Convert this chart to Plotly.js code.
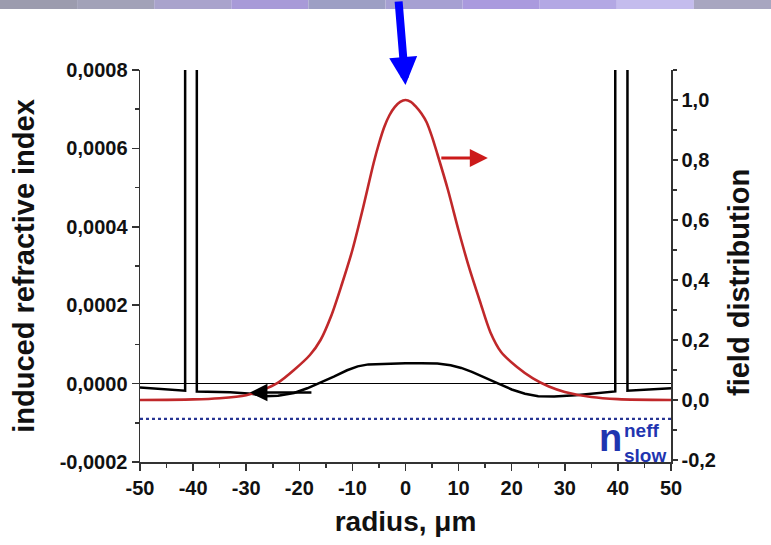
<!DOCTYPE html>
<html>
<head>
<meta charset="utf-8">
<script src="https://cdn.plot.ly/plotly-3.0.1.min.js"></script>
<style>html,body{margin:0;padding:0;background:#fff;}#chart{width:771px;height:545px;}</style>
</head>
<body>
<div id="chart"></div>
<script>
// ---- data ----
const radius = [-50, -40, -35, -30, -27, -24, -21, -18, -16, -14, -12, -10, -8, -6, -5, -4, -3, -2, -1, 0, 1, 2, 3, 4, 5, 6, 8, 10, 12, 14, 16, 18, 21, 24, 27, 30, 35, 40, 50];
const fieldDistribution = [0, 0.002, 0.006, 0.016, 0.033, 0.058, 0.1, 0.15, 0.2, 0.28, 0.385, 0.5, 0.64, 0.79, 0.855, 0.91, 0.95, 0.977, 0.994, 1.0, 0.994, 0.977, 0.955, 0.925, 0.877, 0.82, 0.70, 0.565, 0.44, 0.33, 0.225, 0.16, 0.11, 0.072, 0.045, 0.027, 0.01, 0.003, 0];

const indexRadius = [-50, -41.5, -41.5, -39.3, -39.3, -33, -29, -26.5, -24, -21, -18.5, -16, -13.5, -11, -9, -7, -3, 0, 3, 6, 8.5, 10.5, 12.5, 15, 17.5, 20, 22.5, 25, 28, 32, 39.5, 39.5, 41.8, 41.8, 50];
const inducedIndex = [-1.0e-5, -1.8e-5, 9e-4, 9e-4, -2.0e-5, -2.2e-5, -2.6e-5, -3.2e-5, -3.1e-5, -2.4e-5, -1.2e-5, 2e-6, 1.8e-5, 3.4e-5, 4.4e-5, 4.9e-5, 5.1e-5, 5.2e-5, 5.2e-5, 5.1e-5, 4.7e-5, 4.0e-5, 3.0e-5, 1.6e-5, 0.0, -1.5e-5, -2.6e-5, -3.2e-5, -3.3e-5, -3.0e-5, -2.0e-5, 9e-4, 9e-4, -1.8e-5, -1.2e-5];

const slowRadius = [-50, 50];
const slowIndex = [-0.00009, -0.00009];

const xTickVals = [-50, -40, -30, -20, -10, 0, 10, 20, 30, 40, 50];
const xTickText = ["-50", "-40", "-30", "-20", "-10", "0", "10", "20", "30", "40", "50"];
const leftTickVals = [-0.0002, 0, 0.0002, 0.0004, 0.0006, 0.0008];
const leftTickText = ["-0,0002", "0,0000", "0,0002", "0,0004", "0,0006", "0,0008"];
const rightTickVals = [-0.2, 0, 0.2, 0.4, 0.6, 0.8, 1.0];
const rightTickText = ["-0,2", "0,0", "0,2", "0,4", "0,6", "0,8", "1,0"];

// decorative top band colours
const bandColors = ["#9c9cae", "#a2a2b8", "#a9a3cc", "#a89ad8", "#9d9fc4", "#a6a0d2", "#aa9ade", "#b3a8e4", "#c4bced", "#a8a6c0"];

// ---- chart ----
const FONT = "Liberation Sans, Arial, sans-serif";
const AX = "#333333";
const NBLUE = "#1f35b0";

const traces = [
  {x: slowRadius, y: slowIndex, type: "scatter", mode: "lines", yaxis: "y",
   line: {color: "#283593", width: 2.2, dash: "dot"}, hoverinfo: "skip"},
  {x: indexRadius, y: inducedIndex, type: "scatter", mode: "lines", yaxis: "y",
   line: {color: "#000000", width: 2.5}},
  {x: radius, y: fieldDistribution, type: "scatter", mode: "lines", yaxis: "y2",
   line: {color: "#c0282a", width: 2.6, shape: "spline", smoothing: 0.8}}
];

const shapes = bandColors.map((c, i) => ({
  type: "rect", xref: "paper", yref: "paper",
  x0: -140/531 + i * (771/531) / bandColors.length,
  x1: -140/531 + (i + 1) * (771/531) / bandColors.length,
  y0: (462 - 9) / 392, y1: 462 / 392 + 0.01,
  fillcolor: c, line: {width: 0}, layer: "below"
}));

const annotations = [
  // big blue arrow pointing at field maximum
  {xref: "x", yref: "y2", x: 0, y: 1.05, ax: -7, ay: -86, showarrow: true,
   arrowhead: 2, arrowsize: 0.7, arrowwidth: 8, arrowcolor: "#0000ff", text: ""},
  // red arrow -> right axis
  {xref: "x", yref: "y2", x: 15.5, y: 0.807, ax: -48, ay: 0, showarrow: true,
   arrowhead: 2, arrowsize: 1.2, arrowwidth: 3, arrowcolor: "#cc1a1a", text: ""},
  // black arrow -> left axis
  {xref: "x", yref: "y", x: -29.3, y: -2.3e-5, ax: 63, ay: 0, showarrow: true,
   arrowhead: 2, arrowsize: 1.4, arrowwidth: 2.5, arrowcolor: "#000000", text: ""},
  // n_slow^neff label
  {xref: "x", yref: "y", x: 38.6, y: -0.000140, xanchor: "center", yanchor: "middle", showarrow: false,
   text: "<b>n</b>", font: {family: FONT, size: 38, color: NBLUE}},
  {xref: "x", yref: "y", x: 40.8, y: -0.000151, xanchor: "left", yanchor: "middle", showarrow: false,
   align: "left", text: "<b>neff</b><br><b>slow</b>", font: {family: FONT, size: 19, color: NBLUE}},
  // right axis title
  {xref: "paper", yref: "paper", x: (739 - 140) / 531, y: (462 - 283) / 392, xanchor: "center", yanchor: "middle",
   showarrow: false, textangle: -90, text: "<b>field distribution</b>",
   font: {family: FONT, size: 29, color: "#111"}}
];

const tickFont = {family: FONT, size: 20, color: "#111", weight: "bold"};

const layout = {
  width: 771, height: 545,
  margin: {l: 140, r: 100, t: 70, b: 83},
  paper_bgcolor: "#ffffff", plot_bgcolor: "#ffffff",
  showlegend: false,
  font: {family: FONT},
  xaxis: {
    range: [-50, 50], showgrid: false, zeroline: false,
    showline: true, linecolor: AX, linewidth: 1.5,
    ticks: "outside", ticklen: 7, tickwidth: 1.5, tickcolor: AX,
    tickmode: "array", tickvals: xTickVals, ticktext: xTickText,
    tickfont: tickFont,
    minor: {ticks: "outside", ticklen: 4, tickwidth: 1.5, tickcolor: AX, dtick: 5, tick0: 0, showgrid: false},
    title: {text: "<b>radius, \u03bcm</b>", font: {family: FONT, size: 28, color: "#111"}, standoff: 14}
  },
  yaxis: {
    range: [-0.0002, 0.0008], showgrid: false,
    zeroline: true, zerolinecolor: "#000000", zerolinewidth: 1.2,
    showline: true, linecolor: AX, linewidth: 1.5,
    ticks: "outside", ticklen: 7, tickwidth: 1.5, tickcolor: AX,
    tickmode: "array", tickvals: leftTickVals, ticktext: leftTickText,
    tickfont: tickFont,
    minor: {ticks: "outside", ticklen: 4, tickwidth: 1.5, tickcolor: AX, dtick: 0.0001, tick0: 0, showgrid: false},
    title: {text: "<b>induced refractive index</b>", font: {family: FONT, size: 29, color: "#111"}, standoff: 16}
  },
  yaxis2: {
    range: [-0.2067, 1.1], overlaying: "y", side: "right", anchor: "x",
    showgrid: false, zeroline: false,
    showline: true, linecolor: AX, linewidth: 1.5,
    ticks: "outside", ticklen: 5, tickwidth: 1.5, tickcolor: AX,
    tickmode: "array", tickvals: rightTickVals, ticktext: rightTickText,
    tickfont: tickFont,
    minor: {ticks: "outside", ticklen: 4, tickwidth: 1.5, tickcolor: AX, dtick: 0.1, tick0: 0, showgrid: false}
  },
  yaxis3: {
    range: [-0.2067, 1.1], overlaying: "y", side: "right", anchor: "x",
    showgrid: false, zeroline: false, showline: false, showticklabels: false,
    ticks: "inside", ticklen: 5, tickwidth: 1.5, tickcolor: AX,
    tickmode: "array", tickvals: rightTickVals,
    minor: {ticks: "inside", ticklen: 4, tickwidth: 1.5, tickcolor: AX, dtick: 0.1, tick0: 0, showgrid: false}
  },
  shapes: shapes,
  annotations: annotations
};

Plotly.newPlot("chart", traces, layout, {displayModeBar: false, staticPlot: true});
</script>
</body>
</html>
